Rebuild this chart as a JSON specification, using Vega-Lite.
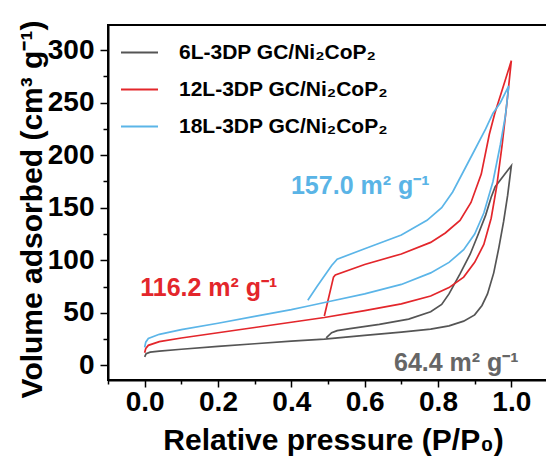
{
  "$schema": "https://vega.github.io/schema/vega-lite/v6.json",
  "width": 440,
  "height": 355,
  "autosize": {"type": "none"},
  "padding": {"left": 108, "top": 25, "right": 0, "bottom": 81},
  "background": "white",
  "config": {
    "view": {"stroke": "black", "strokeWidth": 2},
    "font": "Liberation Sans",
    "legend": {"padding": 0}
  },
  "datasets": {
    "iso": [
      {"sample": "6L-3DP GC/Ni₂CoP₂", "i": 0, "p": 0.0, "v": 8},
      {"sample": "6L-3DP GC/Ni₂CoP₂", "i": 1, "p": 0.004, "v": 11},
      {"sample": "6L-3DP GC/Ni₂CoP₂", "i": 2, "p": 0.015, "v": 12.5},
      {"sample": "6L-3DP GC/Ni₂CoP₂", "i": 3, "p": 0.04, "v": 13.5},
      {"sample": "6L-3DP GC/Ni₂CoP₂", "i": 4, "p": 0.1, "v": 15.3},
      {"sample": "6L-3DP GC/Ni₂CoP₂", "i": 5, "p": 0.2, "v": 18},
      {"sample": "6L-3DP GC/Ni₂CoP₂", "i": 6, "p": 0.3, "v": 20.5},
      {"sample": "6L-3DP GC/Ni₂CoP₂", "i": 7, "p": 0.4, "v": 23},
      {"sample": "6L-3DP GC/Ni₂CoP₂", "i": 8, "p": 0.49, "v": 25},
      {"sample": "6L-3DP GC/Ni₂CoP₂", "i": 9, "p": 0.6, "v": 28.5},
      {"sample": "6L-3DP GC/Ni₂CoP₂", "i": 10, "p": 0.7, "v": 31.5},
      {"sample": "6L-3DP GC/Ni₂CoP₂", "i": 11, "p": 0.78, "v": 34.5},
      {"sample": "6L-3DP GC/Ni₂CoP₂", "i": 12, "p": 0.83, "v": 37.5},
      {"sample": "6L-3DP GC/Ni₂CoP₂", "i": 13, "p": 0.87, "v": 42},
      {"sample": "6L-3DP GC/Ni₂CoP₂", "i": 14, "p": 0.9, "v": 48},
      {"sample": "6L-3DP GC/Ni₂CoP₂", "i": 15, "p": 0.92, "v": 57},
      {"sample": "6L-3DP GC/Ni₂CoP₂", "i": 16, "p": 0.935, "v": 68},
      {"sample": "6L-3DP GC/Ni₂CoP₂", "i": 17, "p": 0.952, "v": 88},
      {"sample": "6L-3DP GC/Ni₂CoP₂", "i": 18, "p": 0.966, "v": 112},
      {"sample": "6L-3DP GC/Ni₂CoP₂", "i": 19, "p": 0.979, "v": 137},
      {"sample": "6L-3DP GC/Ni₂CoP₂", "i": 20, "p": 0.99, "v": 162},
      {"sample": "6L-3DP GC/Ni₂CoP₂", "i": 21, "p": 1.0, "v": 190},
      {"sample": "6L-3DP GC/Ni₂CoP₂", "i": 22, "p": 0.956, "v": 170},
      {"sample": "6L-3DP GC/Ni₂CoP₂", "i": 23, "p": 0.945, "v": 160},
      {"sample": "6L-3DP GC/Ni₂CoP₂", "i": 24, "p": 0.93, "v": 143},
      {"sample": "6L-3DP GC/Ni₂CoP₂", "i": 25, "p": 0.91, "v": 125},
      {"sample": "6L-3DP GC/Ni₂CoP₂", "i": 26, "p": 0.888, "v": 106},
      {"sample": "6L-3DP GC/Ni₂CoP₂", "i": 27, "p": 0.86, "v": 87},
      {"sample": "6L-3DP GC/Ni₂CoP₂", "i": 28, "p": 0.83, "v": 68},
      {"sample": "6L-3DP GC/Ni₂CoP₂", "i": 29, "p": 0.81, "v": 58},
      {"sample": "6L-3DP GC/Ni₂CoP₂", "i": 30, "p": 0.78, "v": 51},
      {"sample": "6L-3DP GC/Ni₂CoP₂", "i": 31, "p": 0.72, "v": 44},
      {"sample": "6L-3DP GC/Ni₂CoP₂", "i": 32, "p": 0.64, "v": 39},
      {"sample": "6L-3DP GC/Ni₂CoP₂", "i": 33, "p": 0.56, "v": 35},
      {"sample": "6L-3DP GC/Ni₂CoP₂", "i": 34, "p": 0.525, "v": 33},
      {"sample": "6L-3DP GC/Ni₂CoP₂", "i": 35, "p": 0.51, "v": 31},
      {"sample": "6L-3DP GC/Ni₂CoP₂", "i": 36, "p": 0.495, "v": 26},

      {"sample": "12L-3DP GC/Ni₂CoP₂", "i": 0, "p": 0.0, "v": 12},
      {"sample": "12L-3DP GC/Ni₂CoP₂", "i": 1, "p": 0.003, "v": 16},
      {"sample": "12L-3DP GC/Ni₂CoP₂", "i": 2, "p": 0.01, "v": 19},
      {"sample": "12L-3DP GC/Ni₂CoP₂", "i": 3, "p": 0.04, "v": 22.5},
      {"sample": "12L-3DP GC/Ni₂CoP₂", "i": 4, "p": 0.1, "v": 26},
      {"sample": "12L-3DP GC/Ni₂CoP₂", "i": 5, "p": 0.2, "v": 31},
      {"sample": "12L-3DP GC/Ni₂CoP₂", "i": 6, "p": 0.3, "v": 36},
      {"sample": "12L-3DP GC/Ni₂CoP₂", "i": 7, "p": 0.4, "v": 41},
      {"sample": "12L-3DP GC/Ni₂CoP₂", "i": 8, "p": 0.49, "v": 45.5},
      {"sample": "12L-3DP GC/Ni₂CoP₂", "i": 9, "p": 0.6, "v": 52},
      {"sample": "12L-3DP GC/Ni₂CoP₂", "i": 10, "p": 0.7, "v": 58.5},
      {"sample": "12L-3DP GC/Ni₂CoP₂", "i": 11, "p": 0.78, "v": 66},
      {"sample": "12L-3DP GC/Ni₂CoP₂", "i": 12, "p": 0.83, "v": 74},
      {"sample": "12L-3DP GC/Ni₂CoP₂", "i": 13, "p": 0.87, "v": 84},
      {"sample": "12L-3DP GC/Ni₂CoP₂", "i": 14, "p": 0.9, "v": 98},
      {"sample": "12L-3DP GC/Ni₂CoP₂", "i": 15, "p": 0.925, "v": 115},
      {"sample": "12L-3DP GC/Ni₂CoP₂", "i": 16, "p": 0.945, "v": 140},
      {"sample": "12L-3DP GC/Ni₂CoP₂", "i": 17, "p": 0.96, "v": 170},
      {"sample": "12L-3DP GC/Ni₂CoP₂", "i": 18, "p": 0.975, "v": 210},
      {"sample": "12L-3DP GC/Ni₂CoP₂", "i": 19, "p": 0.988, "v": 250},
      {"sample": "12L-3DP GC/Ni₂CoP₂", "i": 20, "p": 1.0, "v": 290},
      {"sample": "12L-3DP GC/Ni₂CoP₂", "i": 21, "p": 0.975, "v": 262},
      {"sample": "12L-3DP GC/Ni₂CoP₂", "i": 22, "p": 0.955, "v": 240},
      {"sample": "12L-3DP GC/Ni₂CoP₂", "i": 23, "p": 0.94, "v": 220},
      {"sample": "12L-3DP GC/Ni₂CoP₂", "i": 24, "p": 0.918, "v": 182},
      {"sample": "12L-3DP GC/Ni₂CoP₂", "i": 25, "p": 0.89, "v": 155},
      {"sample": "12L-3DP GC/Ni₂CoP₂", "i": 26, "p": 0.86, "v": 138},
      {"sample": "12L-3DP GC/Ni₂CoP₂", "i": 27, "p": 0.82, "v": 126},
      {"sample": "12L-3DP GC/Ni₂CoP₂", "i": 28, "p": 0.78, "v": 117},
      {"sample": "12L-3DP GC/Ni₂CoP₂", "i": 29, "p": 0.7, "v": 106},
      {"sample": "12L-3DP GC/Ni₂CoP₂", "i": 30, "p": 0.6, "v": 96},
      {"sample": "12L-3DP GC/Ni₂CoP₂", "i": 31, "p": 0.52, "v": 86},
      {"sample": "12L-3DP GC/Ni₂CoP₂", "i": 32, "p": 0.515, "v": 84},
      {"sample": "12L-3DP GC/Ni₂CoP₂", "i": 33, "p": 0.49, "v": 47},

      {"sample": "18L-3DP GC/Ni₂CoP₂", "i": 0, "p": 0.0, "v": 17},
      {"sample": "18L-3DP GC/Ni₂CoP₂", "i": 1, "p": 0.003, "v": 22},
      {"sample": "18L-3DP GC/Ni₂CoP₂", "i": 2, "p": 0.01, "v": 25.5},
      {"sample": "18L-3DP GC/Ni₂CoP₂", "i": 3, "p": 0.04, "v": 29.5},
      {"sample": "18L-3DP GC/Ni₂CoP₂", "i": 4, "p": 0.1, "v": 34},
      {"sample": "18L-3DP GC/Ni₂CoP₂", "i": 5, "p": 0.2, "v": 40},
      {"sample": "18L-3DP GC/Ni₂CoP₂", "i": 6, "p": 0.3, "v": 46.5},
      {"sample": "18L-3DP GC/Ni₂CoP₂", "i": 7, "p": 0.4, "v": 53},
      {"sample": "18L-3DP GC/Ni₂CoP₂", "i": 8, "p": 0.44, "v": 56},
      {"sample": "18L-3DP GC/Ni₂CoP₂", "i": 9, "p": 0.5, "v": 60.5},
      {"sample": "18L-3DP GC/Ni₂CoP₂", "i": 10, "p": 0.6, "v": 68},
      {"sample": "18L-3DP GC/Ni₂CoP₂", "i": 11, "p": 0.7, "v": 77},
      {"sample": "18L-3DP GC/Ni₂CoP₂", "i": 12, "p": 0.78, "v": 88},
      {"sample": "18L-3DP GC/Ni₂CoP₂", "i": 13, "p": 0.83, "v": 98},
      {"sample": "18L-3DP GC/Ni₂CoP₂", "i": 14, "p": 0.87, "v": 110},
      {"sample": "18L-3DP GC/Ni₂CoP₂", "i": 15, "p": 0.9, "v": 125},
      {"sample": "18L-3DP GC/Ni₂CoP₂", "i": 16, "p": 0.925, "v": 145},
      {"sample": "18L-3DP GC/Ni₂CoP₂", "i": 17, "p": 0.95, "v": 175},
      {"sample": "18L-3DP GC/Ni₂CoP₂", "i": 18, "p": 0.97, "v": 210},
      {"sample": "18L-3DP GC/Ni₂CoP₂", "i": 19, "p": 0.984, "v": 238},
      {"sample": "18L-3DP GC/Ni₂CoP₂", "i": 20, "p": 0.993, "v": 266},
      {"sample": "18L-3DP GC/Ni₂CoP₂", "i": 21, "p": 0.97, "v": 250},
      {"sample": "18L-3DP GC/Ni₂CoP₂", "i": 22, "p": 0.95, "v": 240},
      {"sample": "18L-3DP GC/Ni₂CoP₂", "i": 23, "p": 0.93, "v": 225},
      {"sample": "18L-3DP GC/Ni₂CoP₂", "i": 24, "p": 0.9, "v": 205},
      {"sample": "18L-3DP GC/Ni₂CoP₂", "i": 25, "p": 0.87, "v": 185},
      {"sample": "18L-3DP GC/Ni₂CoP₂", "i": 26, "p": 0.84, "v": 165},
      {"sample": "18L-3DP GC/Ni₂CoP₂", "i": 27, "p": 0.81, "v": 150},
      {"sample": "18L-3DP GC/Ni₂CoP₂", "i": 28, "p": 0.77, "v": 138},
      {"sample": "18L-3DP GC/Ni₂CoP₂", "i": 29, "p": 0.7, "v": 124},
      {"sample": "18L-3DP GC/Ni₂CoP₂", "i": 30, "p": 0.6, "v": 111},
      {"sample": "18L-3DP GC/Ni₂CoP₂", "i": 31, "p": 0.525, "v": 101},
      {"sample": "18L-3DP GC/Ni₂CoP₂", "i": 32, "p": 0.51, "v": 95},
      {"sample": "18L-3DP GC/Ni₂CoP₂", "i": 33, "p": 0.49, "v": 85},
      {"sample": "18L-3DP GC/Ni₂CoP₂", "i": 34, "p": 0.47, "v": 75},
      {"sample": "18L-3DP GC/Ni₂CoP₂", "i": 35, "p": 0.445, "v": 62}
    ]
  },
  "encoding": {
    "x": {
      "field": "p", "type": "quantitative",
      "scale": {"domain": [-0.1, 1.1], "nice": false, "zero": false},
      "axis": {
        "title": "Relative pressure (P/P₀)",
        "values": [-0.1, 0, 0.1, 0.2, 0.3, 0.4, 0.5, 0.6, 0.7, 0.8, 0.9, 1.0],
        "labelExpr": "(round(datum.value*10) % 2 === 0 && datum.value > -0.05) ? format(datum.value, '.1f') : ''",
        "tickSize": {"condition": {"test": "round(datum.value*10) % 2 === 0", "value": 7}, "value": 4},
        "tickColor": "black", "tickWidth": 1.5,
        "domainColor": "black", "domainWidth": 2,
        "grid": false,
        "labelFont": "Liberation Sans", "labelFontSize": 28, "labelFontWeight": "bold", "labelColor": "black",
        "labelPadding": 1, "labelFlush": false, "labelOverlap": false, "labelBound": false,
        "titleFont": "Liberation Sans", "titleFontSize": 30, "titleFontWeight": "bold", "titleColor": "black",
        "titleX": 225, "titleY": 69, "titleBaseline": "alphabetic", "titleAlign": "center"
      }
    },
    "y": {
      "field": "v", "type": "quantitative",
      "scale": {"domain": [-14, 324], "nice": false, "zero": false},
      "axis": {
        "title": "Volume adsorbed (cm³ g⁻¹)",
        "values": [0, 25, 50, 75, 100, 125, 150, 175, 200, 225, 250, 275, 300],
        "labelExpr": "datum.value % 50 === 0 ? datum.label : ''",
        "tickSize": {"condition": {"test": "datum.value % 50 === 0", "value": 8}, "value": 5},
        "tickColor": "black", "tickWidth": 1.5,
        "domainColor": "black", "domainWidth": 2,
        "grid": false,
        "labelFont": "Liberation Sans", "labelFontSize": 28, "labelFontWeight": "bold", "labelColor": "black",
        "labelPadding": 6, "labelOverlap": false, "labelBound": false, "labelFlush": false,
        "titleFont": "Liberation Sans", "titleFontSize": 30, "titleFontWeight": "bold", "titleColor": "black",
        "titleX": -67, "titleY": 184, "titleAngle": -90, "titleBaseline": "alphabetic", "titleAlign": "center"
      }
    }
  },
  "layer": [
    {
      "data": {"name": "iso"},
      "mark": {"type": "line", "strokeWidth": 1.7, "clip": true},
      "encoding": {
        "color": {
          "field": "sample", "type": "nominal",
          "scale": {
            "domain": ["6L-3DP GC/Ni₂CoP₂", "12L-3DP GC/Ni₂CoP₂", "18L-3DP GC/Ni₂CoP₂"],
            "range": ["#555555", "#e3262b", "#5bb5e8"]
          },
          "legend": {
            "title": null,
            "orient": "none", "legendX": 12, "legendY": 8,
            "symbolType": "stroke", "symbolSize": 1369, "symbolStrokeWidth": 2,
            "labelFont": "Liberation Sans", "labelFontSize": 21, "labelFontWeight": "bold", "labelColor": "black",
            "labelOffset": 20, "labelLimit": 400, "rowPadding": 7,
            "labelExpr": "datum.label[0] === '6' ? '\u00a0\u00a0' + datum.label : datum.label"
          }
        },
        "order": {"field": "i", "type": "quantitative"}
      }
    },
    {
      "data": {"values": [{"p": 0.588, "v": 171, "t": "157.0 m² g⁻¹"}]},
      "mark": {"type": "text", "color": "#5ab4e6", "font": "Liberation Sans", "fontSize": 25, "fontWeight": "bold", "align": "center", "baseline": "middle"},
      "encoding": {"text": {"field": "t"}}
    },
    {
      "data": {"values": [{"p": 0.175, "v": 74, "t": "116.2 m² g⁻¹"}]},
      "mark": {"type": "text", "color": "#e3262b", "font": "Liberation Sans", "fontSize": 25, "fontWeight": "bold", "align": "center", "baseline": "middle"},
      "encoding": {"text": {"field": "t"}}
    },
    {
      "data": {"values": [{"p": 0.85, "v": 2, "t": "64.4 m² g⁻¹"}]},
      "mark": {"type": "text", "color": "#666666", "font": "Liberation Sans", "fontSize": 25, "fontWeight": "bold", "align": "center", "baseline": "middle"},
      "encoding": {"text": {"field": "t"}}
    }
  ]
}
